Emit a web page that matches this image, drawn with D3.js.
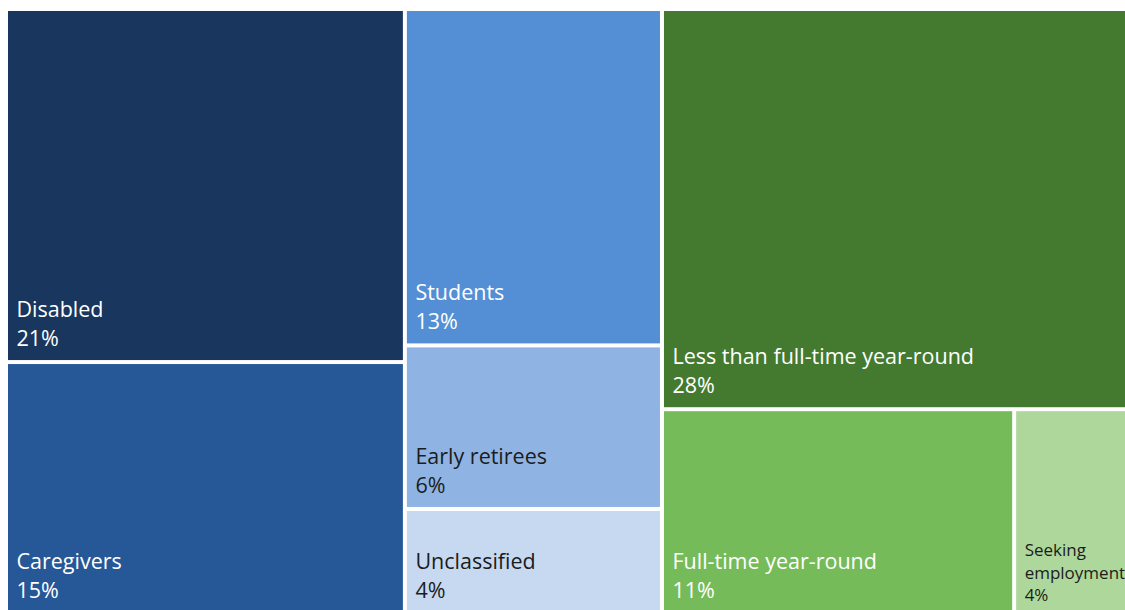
<!DOCTYPE html>
<html>
<head>
<meta charset="utf-8">
<script src="https://cdn.jsdelivr.net/npm/d3@7"></script>
<style>
  html, body { margin: 0; padding: 0; background: #ffffff; overflow: hidden; }
  svg { display: block; }
</style>
</head>
<body>
<svg id="chart" width="1125" height="610"></svg>
<script>
// Columns (groups) and their categories, in layout order
const groups = ["Not working A", "Not working B", "Working"];
const categories = [
  "Disabled", "Caregivers",
  "Students", "Early retirees", "Unclassified",
  "Less than full-time year-round", "Full-time year-round", "Seeking employment"
];
const categoryGroup = [0, 0, 1, 1, 1, 2, 2, 2];
// sub-group within the working column: LFT alone, FT + Seeking side by side
const categorySub = [null, null, null, null, null, "lft", "bottom", "bottom"];
// shares (%) estimated from the tile areas
const values = [20.6, 14.7, 12.65, 6.15, 3.95, 27.75, 10.55, 3.65];
const colors = ["#18365e", "#265797", "#548fd6", "#8fb4e3", "#c6d9f1", "#437a2f", "#76bb59", "#add79b"];
const textColors = ["#ffffff", "#ffffff", "#ffffff", "#1c1c1c", "#1c1c1c", "#ffffff", "#ffffff", "#1c1c1c"];
const labelLines = [
  ["Disabled"], ["Caregivers"], ["Students"], ["Early retirees"], ["Unclassified"],
  ["Less than full-time year-round"], ["Full-time year-round"], ["Seeking", "employment"]
];
const smallLabel = [false, false, false, false, false, false, false, true];

// Build hierarchy
const rootData = { name: "root", children: groups.map((g, gi) => {
  const idx = categories.map((c, i) => i).filter(i => categoryGroup[i] === gi);
  if (gi < 2) {
    return { name: g, children: idx.map(i => ({ name: categories[i], i, value: values[i] })) };
  }
  const lft = idx.filter(i => categorySub[i] === "lft");
  const bottom = idx.filter(i => categorySub[i] === "bottom");
  return { name: g, children: [
    ...lft.map(i => ({ name: categories[i], i, value: values[i] })),
    { name: "bottom", children: bottom.map(i => ({ name: categories[i], i, value: values[i] })) }
  ]};
})};

const X0 = 8, Y0 = 11, W = 1126, H = 601;

const root = d3.hierarchy(rootData).sum(d => d.value || 0);
d3.treemap()
  .tile(d3.treemapSliceDice)
  .size([W, H])
  .paddingInner(4)
  .round(false)(root);

const svg = d3.select("#chart");
const g = svg.append("g").attr("transform", `translate(${X0},${Y0})`);

const leaves = root.leaves();
const cell = g.selectAll("g.cell").data(leaves).join("g").attr("class", "cell");

cell.append("rect")
  .attr("x", d => d.x0)
  .attr("y", d => d.y0)
  .attr("width", d => d.x1 - d.x0)
  .attr("height", d => d.y1 - d.y0)
  .attr("fill", d => colors[d.data.i]);

const fmt = v => d3.format(".0f")(v) + "%";

cell.each(function(d) {
  const i = d.data.i;
  const small = smallLabel[i];
  const fs = small ? 17 : 21.5;
  const lh = small ? 22.5 : 29;
  const bottomPad = small ? 11 : 14;
  const lines = labelLines[i].concat([fmt(values[i])]);
  const sel = d3.select(this);
  const n = lines.length;
  lines.forEach((t, k) => {
    sel.append("text")
      .attr("x", d.x0 + (small ? 8.5 : 8.5))
      .attr("y", d.y1 - bottomPad - (n - 1 - k) * lh)
      .attr("fill", textColors[i])
      .attr("font-family", "'Open Sans', sans-serif")
      .attr("font-size", fs)
      .text(t);
  });
});
</script>
</body>
</html>
